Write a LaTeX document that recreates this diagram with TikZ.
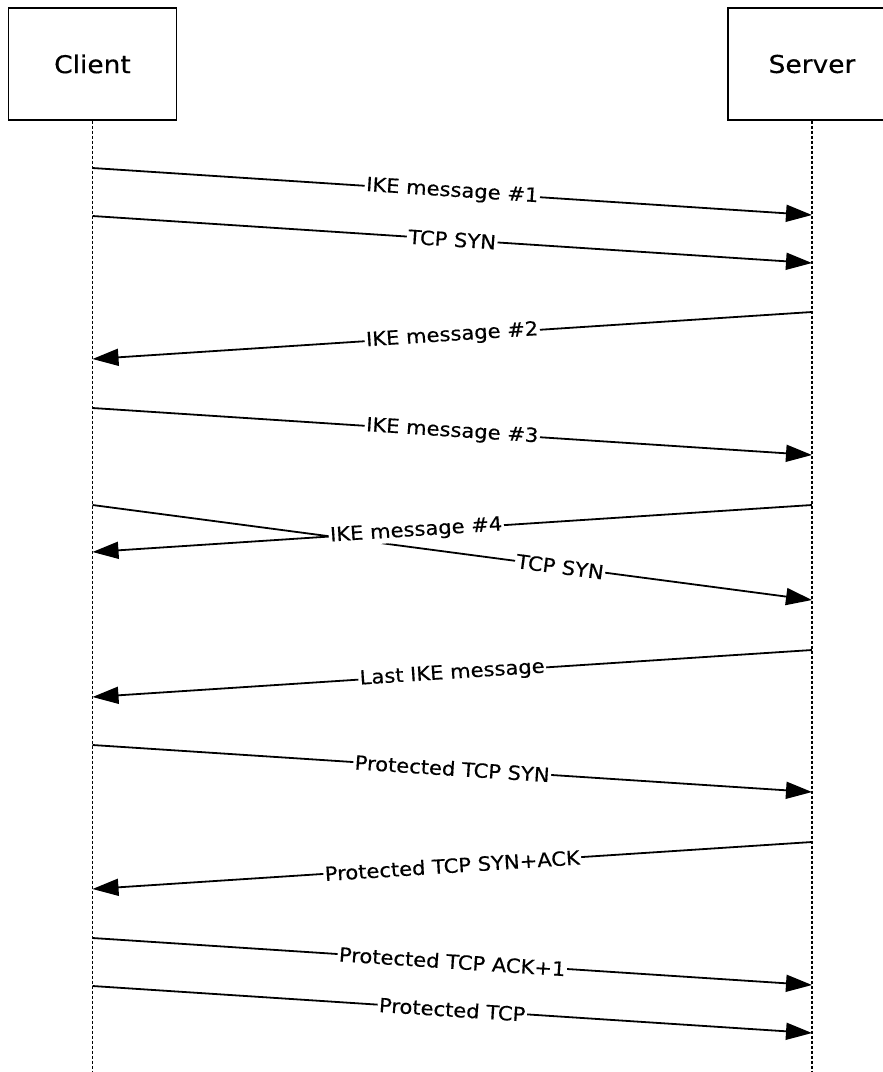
\documentclass[tikz,border=0pt]{standalone}
\usepackage{fontspec}
\usetikzlibrary{arrows.meta}
\newfontfamily\policeTexte[FakeStretch=1.08,FakeBold=0.4]{DejaVu Sans}
\begin{document}
\begin{tikzpicture}[x=1pt,y=-1pt]
	% Styles (MODIFIABLES)
	\tikzstyle{acteur}=[draw, line width=1.3pt, minimum width=168pt, minimum height=112pt, inner sep=0pt, font=\policeTexte\fontsize{24.5}{28}\selectfont]
	\tikzstyle{vie}=[line width=1.3pt, dash pattern=on 3pt off 2pt]
	\tikzstyle{fleche}=[-{Triangle[length=26pt,width=17pt]}, line width=1.8pt]
	\tikzstyle{etiquette}=[sloped, fill=white, inner sep=1.5pt, font=\policeTexte\fontsize{19.5}{22}\selectfont]
	% Dimensions (MODIFIABLES)
	\def\XClient{92.5}
	\def\XServeur{812}
	\def\Pente{47}
	\def\Bas{1072}
	% Cadre
	\useasboundingbox (0,0) rectangle (883,\Bas);
	% Acteurs
	\node[acteur] (client) at (\XClient,64) {Client};
	\node[acteur] (serveur) at (\XServeur,64) {Server};
	\coordinate (finClient) at (\XClient,\Bas);
	\coordinate (finServeur) at (\XServeur,\Bas);
	\draw[vie] (client.south)--(finClient);
	\draw[vie] (serveur.south)--(finServeur);
	% Points des messages
	\coordinate (C1) at (\XClient,168);
	\coordinate (S1) at (\XServeur,{168+\Pente});
	\coordinate (C2) at (\XClient,216);
	\coordinate (S2) at (\XServeur,{216+\Pente});
	\coordinate (S3) at (\XServeur,312);
	\coordinate (C3) at (\XClient,{312+\Pente});
	\coordinate (C4) at (\XClient,408);
	\coordinate (S4) at (\XServeur,{408+\Pente});
	\coordinate (S5) at (\XServeur,505);
	\coordinate (C5) at (\XClient,{505+\Pente});
	\coordinate (C6) at (\XClient,505);
	\coordinate (S6) at (\XServeur,600);
	\coordinate (S7) at (\XServeur,650);
	\coordinate (C7) at (\XClient,{650+\Pente});
	\coordinate (C8) at (\XClient,745);
	\coordinate (S8) at (\XServeur,{745+\Pente});
	\coordinate (S9) at (\XServeur,842);
	\coordinate (C9) at (\XClient,{842+\Pente});
	\coordinate (C10) at (\XClient,938);
	\coordinate (S10) at (\XServeur,{938+\Pente});
	\coordinate (C11) at (\XClient,986);
	\coordinate (S11) at (\XServeur,{986+\Pente});
	% Messages (MODIFIABLES : Styles)
	\draw[fleche] (C1)--(S1) node[etiquette, midway]{IKE message \#1};
	\draw[fleche] (C2)--(S2) node[etiquette, midway]{TCP SYN};
	\draw[fleche] (S3)--(C3) node[etiquette, midway]{IKE message \#2};
	\draw[fleche] (C4)--(S4) node[etiquette, midway]{IKE message \#3};
	\draw[fleche] (C6)--(S6) node[etiquette, pos=0.65]{TCP SYN};
	\draw[fleche] (S5)--(C5) node[etiquette, pos=0.55]{IKE message \#4};
	\draw[fleche] (S7)--(C7) node[etiquette, midway]{Last IKE message};
	\draw[fleche] (C8)--(S8) node[etiquette, midway]{Protected TCP SYN};
	\draw[fleche] (S9)--(C9) node[etiquette, midway]{Protected TCP SYN+ACK};
	\draw[fleche] (C10)--(S10) node[etiquette, midway]{Protected TCP ACK+1};
	\draw[fleche] (C11)--(S11) node[etiquette, midway]{Protected TCP};
\end{tikzpicture}
\end{document}
